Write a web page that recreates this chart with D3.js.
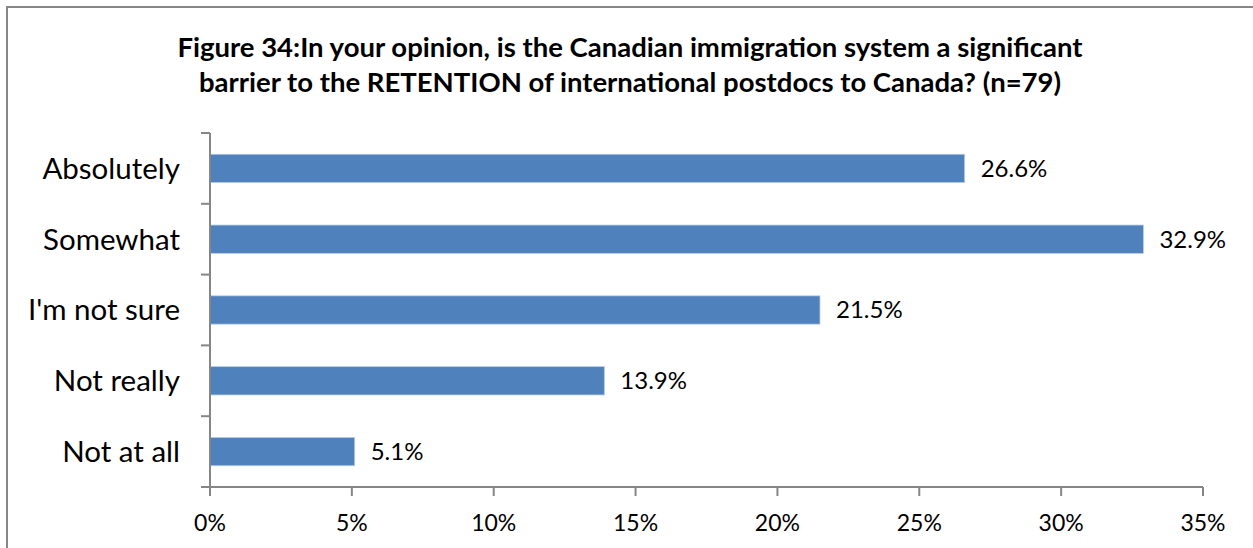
<!DOCTYPE html>
<html>
<head>
<meta charset="utf-8">
<script src="https://cdn.jsdelivr.net/npm/d3@7"></script>
<style>
  body { margin: 0; background: #fff; }
  text { font-family: Lato, "Open Sans", sans-serif; fill: #000; }
</style>
</head>
<body>
<script>
// chart data
var categories = ["Absolutely", "Somewhat", "I'm not sure", "Not really", "Not at all"];
var values = [26.6, 32.9, 21.5, 13.9, 5.1];
var xTicks = [0, 5, 10, 15, 20, 25, 30, 35];
var titleLines = [
  "Figure 34:In your opinion, is the Canadian immigration system a significant",
  "barrier to the RETENTION of international postdocs to Canada? (n=79)"
];

var W = 1253, H = 548;
var plot = {left: 210, right: 1203, top: 133, bottom: 487};

var svg = d3.select("body").append("svg")
    .attr("width", W)
    .attr("height", H);

// outer frame
svg.append("rect")
    .attr("x", 7).attr("y", 7)
    .attr("width", W + 10).attr("height", H + 10)
    .style("fill", "#fff")
    .style("stroke", "#878787")
    .style("stroke-width", 2);

// title
svg.append("g").selectAll("text")
    .data(titleLines)
  .enter().append("text")
    .attr("x", 630)
    .attr("y", function(d, i) { return 57 + i * 35; })
    .attr("text-anchor", "middle")
    .style("font-weight", "bold")
    .style("font-size", "27.5px")
    .text(function(d) { return d; });

// scales
var x = d3.scaleLinear().domain([0, 35]).range([plot.left, plot.right]);
var y = d3.scaleBand().domain(categories).range([plot.top, plot.bottom]).paddingInner(0.6).paddingOuter(0.3);

// bars
svg.append("g").selectAll("rect")
    .data(values)
  .enter().append("rect")
    .attr("x", x(0))
    .attr("y", function(d, i) { return y(categories[i]); })
    .attr("width", function(d) { return x(d) - x(0); })
    .attr("height", y.bandwidth())
    .style("fill", "#4f81bd")
    .style("stroke", "#b9cde5")
    .style("stroke-width", 0.8);

// value labels
svg.append("g").selectAll("text")
    .data(values)
  .enter().append("text")
    .attr("x", function(d) { return x(d) + 16; })
    .attr("y", function(d, i) { return y(categories[i]) + y.bandwidth() / 2; })
    .attr("dy", "0.35em")
    .style("font-size", "24px")
    .text(function(d) { return d.toFixed(1) + "%"; });

// y axis
var yBounds = d3.range(categories.length + 1).map(function(i) {
  return plot.top + i * (plot.bottom - plot.top) / categories.length;
});
var yAxis = svg.append("g");
yAxis.append("line")
    .attr("x1", plot.left).attr("x2", plot.left)
    .attr("y1", plot.top).attr("y2", plot.bottom)
    .style("stroke", "#868686").style("stroke-width", 2);
yAxis.selectAll("line.tick")
    .data(yBounds)
  .enter().append("line")
    .attr("class", "tick")
    .attr("x1", plot.left - 9).attr("x2", plot.left)
    .attr("y1", function(d) { return d; }).attr("y2", function(d) { return d; })
    .style("stroke", "#868686").style("stroke-width", 2);
yAxis.selectAll("text")
    .data(categories)
  .enter().append("text")
    .attr("x", 180)
    .attr("y", function(d) { return y(d) + y.bandwidth() / 2; })
    .attr("dy", "0.35em")
    .attr("text-anchor", "end")
    .style("font-size", "29.5px")
    .text(function(d) { return d; });

// x axis
var xAxis = svg.append("g");
xAxis.append("line")
    .attr("x1", plot.left - 9).attr("x2", plot.right)
    .attr("y1", plot.bottom).attr("y2", plot.bottom)
    .style("stroke", "#868686").style("stroke-width", 2);
xAxis.selectAll("line.tick")
    .data(xTicks)
  .enter().append("line")
    .attr("class", "tick")
    .attr("x1", function(d) { return x(d); }).attr("x2", function(d) { return x(d); })
    .attr("y1", plot.bottom).attr("y2", plot.bottom + 9)
    .style("stroke", "#868686").style("stroke-width", 2);
xAxis.selectAll("text")
    .data(xTicks)
  .enter().append("text")
    .attr("x", function(d) { return x(d); })
    .attr("y", 523)
    .attr("dy", "0.35em")
    .attr("text-anchor", "middle")
    .style("font-size", "23px")
    .text(function(d) { return d + "%"; });
</script>
</body>
</html>
